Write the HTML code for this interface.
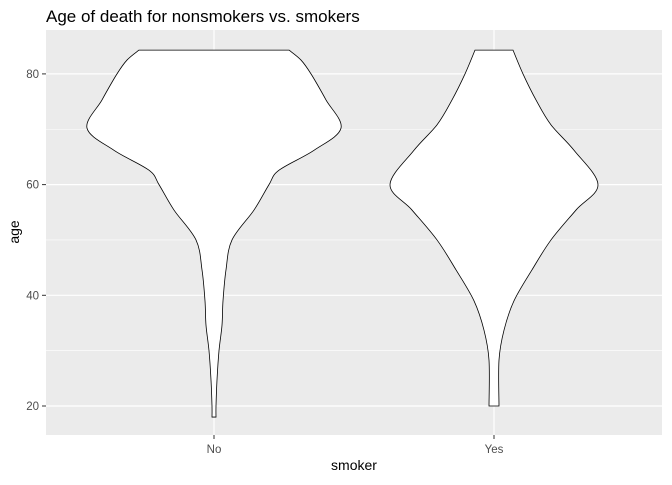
<!DOCTYPE html>
<html><head><meta charset="utf-8"><style>
body{margin:0;background:#fff;font-family:"Liberation Sans",sans-serif}
</style></head><body>
<svg id="chart" width="672" height="480" xmlns="http://www.w3.org/2000/svg" font-family="Liberation Sans, sans-serif">
<text x="46" y="22" font-size="17" fill="#000">Age of death for nonsmokers vs. smokers</text>
<rect x="46" y="30" width="616" height="405" fill="#EBEBEB"/>
<g id="grid"></g>
<g id="violins"></g>
<g id="axes"></g>
<text transform="translate(19,232) rotate(-90)" text-anchor="middle" font-size="14">age</text>
<text x="354" y="470" text-anchor="middle" font-size="14">smoker</text>
</svg>
<script>
const categories = ["No", "Yes"];
const yTicks = [20, 40, 60, 80];
const yMinor = [30, 50, 70];
const noAges = [84.3, 82.5, 80, 75.3, 70.2, 66.2, 62.6, 60, 55.4, 50, 44.6, 39, 34.6, 30, 24.7, 20, 18];
const noWidths = [75, 87, 97, 112, 127, 100, 65, 55, 40, 18, 12, 9, 8, 5, 3, 2, 2];
const yesAges = [84.3, 80, 75.3, 70.8, 66.2, 60, 55.4, 50, 44.6, 39, 33.7, 28.3, 20];
const yesWidths = [19, 29, 42, 57, 80, 104, 82, 57, 38, 20, 10, 5, 5];

const NS="http://www.w3.org/2000/svg";
const y = v => 406 - (v - 20) * 5.535;
const x = i => 214 + i * 280;
const wScale = w => w;
function mk(t, a, p){const e=document.createElementNS(NS,t);for(const k in a)e.setAttribute(k,a[k]);p.appendChild(e);return e;}
const grid=document.getElementById('grid'), vg=document.getElementById('violins'), ax=document.getElementById('axes');
yMinor.forEach(v=>{const l=mk('line',{x1:46,x2:662,y1:y(v),y2:y(v),stroke:'#fff','stroke-width':0.6},grid);

});
yTicks.forEach(v=>{const l=mk('line',{x1:46,x2:662,y1:y(v),y2:y(v),stroke:'#fff','stroke-width':1.2},grid);


const tk=mk('line',{x1:42,x2:46,y1:y(v),y2:y(v),stroke:'#333'},ax);


const t=mk('text',{x:39,y:y(v)+4,'text-anchor':'end','font-size':11.5,fill:'#4D4D4D'},ax);t.textContent=v;

});
categories.forEach((c,i)=>{const l=mk('line',{x1:x(i),x2:x(i),y1:30,y2:435,stroke:'#fff','stroke-width':1.2},grid);


const tk=mk('line',{x1:x(i),x2:x(i),y1:435,y2:439,stroke:'#333'},ax);


const t=mk('text',{x:x(i),y:453,'text-anchor':'middle','font-size':11.5,fill:'#4D4D4D'},ax);t.textContent=c;

});
function smooth(pts){let d='';for(let i=0;i<pts.length-1;i++){const p0=pts[Math.max(i-1,0)],p1=pts[i],p2=pts[i+1],p3=pts[Math.min(i+2,pts.length-1)];
const c1=[p1[0]+(p2[0]-p0[0])/6,p1[1]+(p2[1]-p0[1])/6],c2=[p2[0]-(p3[0]-p1[0])/6,p2[1]-(p3[1]-p1[1])/6];
d+=` C${c1[0]},${c1[1]} ${c2[0]},${c2[1]} ${p2[0]},${p2[1]}`;}return d;}
function violin(i,ages,widths,name){const cx=x(i);
const right=ages.map((a,k)=>[cx+wScale(widths[k]),y(a)]);
const left=ages.map((a,k)=>[cx-wScale(widths[k]),y(a)]).reverse();
let d=`M${right[0][0]},${right[0][1]}`+smooth(right)+` L${left[0][0]},${left[0][1]}`+smooth(left)+' Z';
const p=mk('path',{d:d,fill:'#fff',stroke:'#000','stroke-width':0.8},vg);

}
violin(0,noAges,noWidths,'violin-no');
violin(1,yesAges,yesWidths,'violin-yes');
</script>
</body></html>
